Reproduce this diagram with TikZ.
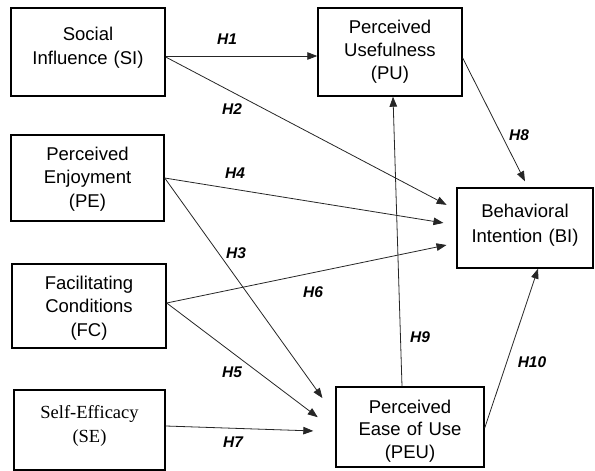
\documentclass[tikz,border=0pt]{standalone}
\usepackage{fontspec}
\setmainfont{Liberation Sans}
\newfontfamily\serifface{Liberation Serif}
\usetikzlibrary{arrows.meta}
\tikzset{
  box/.style={draw=black, line width=1.4pt, rectangle, inner sep=0pt},
  txt/.style={anchor=base, text width=150pt, align=center, inner sep=0pt,
    font=\fontsize{18.5}{23.5}\selectfont},
  hlab/.style={font=\fontsize{15.5}{18}\selectfont\bfseries\itshape, inner sep=0pt},
  arr/.style={draw=black!85, line width=0.8pt, -{Triangle[length=10pt,width=7.5pt]}}
}
\begin{document}
\begin{tikzpicture}[x=1pt,y=-1pt]
\useasboundingbox (0,0) rectangle (595,471);
% boxes
\node[box, minimum width=154pt, minimum height=88pt] (si) at (88,52) {};
\node[box, minimum width=153pt, minimum height=86pt] (pe) at (87.5,178) {};
\node[box, minimum width=154pt, minimum height=84pt] (fc) at (89,306) {};
\node[box, minimum width=151pt, minimum height=80pt] (se) at (89.5,430) {};
\node[box, minimum width=144pt, minimum height=88pt] (pu) at (390,52) {};
\node[box, minimum width=136pt, minimum height=80pt] (bi) at (525,228) {};
\node[box, minimum width=148pt, minimum height=80pt] (peu) at (410,427) {};
% texts
\node[txt] (sit) at (88,41) {Social\\Influence (SI)};
\node[txt] (pet) at (87.5,160) {Perceived\\Enjoyment\\(PE)};
\node[txt] (fct) at (89,289) {Facilitating\\Conditions\\(FC)};
\node[txt, font=\fontsize{18.5}{24}\selectfont\serifface] (set) at (89.5,418) {Self-Efficacy\\(SE)};
\node[txt] (put) at (390,33) {Perceived\\Usefulness\\(PU)};
\node[txt, font=\fontsize{18.5}{25}\selectfont] (bit) at (525,217) {Behavioral\\Intention (BI)};
\node[txt, font=\fontsize{18.5}{22.5}\selectfont] (peut) at (410,413) {Perceived\\Ease of Use\\(PEU)};
% connectors
\draw[arr] ([yshift=-4pt]si.east) -- ([yshift=-4pt]pu.west);
\draw[arr, shorten >=11pt] ([yshift=-5pt]si.east) -- ([yshift=18pt]bi.west);
\draw[arr, shorten >=13pt] (pe.east) -- ([yshift=3pt]bi.west);
\draw[arr, shorten >=10pt] ([yshift=3pt]fc.east) -- ([yshift=-15pt]bi.west);
\draw[arr, shorten >=22pt] (pe.east) -- ([yshift=11pt]peu.west);
\draw[arr, shorten >=22pt] ([yshift=3pt]fc.east) -- ([yshift=-3.5pt]peu.west);
\draw[arr, shorten >=22pt] ([yshift=4pt]se.east) -- ([yshift=-4.7pt]peu.west);
\draw[arr] ([xshift=-8pt]peu.north) -- ([xshift=3pt]pu.south);
\draw[arr, shorten >=6.7pt] ([yshift=-6pt]pu.east) -- ([xshift=3pt]bi.north);
\draw[arr] ([yshift=-1pt]peu.east) -- ([xshift=13pt]bi.south);
% labels
\node[hlab] (h1) at (227,39) {H1};
\node[hlab] (h2) at (232,109) {H2};
\node[hlab] (h4) at (235,173) {H4};
\node[hlab] (h3) at (236,253) {H3};
\node[hlab] (h5) at (232,372) {H5};
\node[hlab] (h7) at (233,442) {H7};
\node[hlab] (h6) at (313,292) {H6};
\node[hlab] (h9) at (420,337) {H9};
\node[hlab] (h10) at (532,362) {H10};
\node[hlab] (h8) at (519,135) {H8};
\end{tikzpicture}
\end{document}
